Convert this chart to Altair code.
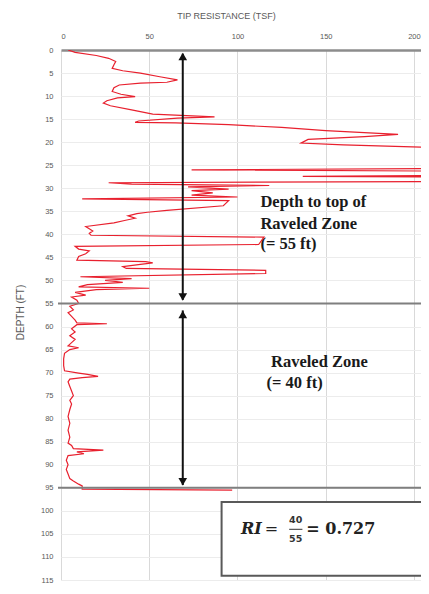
import altair as alt
import pandas as pd

# ---- CPT trace (depth in ft, tip resistance in tsf) ----
depth_ft = [0.0, 0.5, 1.2, 1.8, 2.5, 3.2, 4.0, 4.5, 5.0, 5.8, 6.5, 7.0, 7.2, 7.6, 8.2, 9.0, 9.6, 10.1,
            10.4, 11.0, 11.5, 12.1, 13.0, 13.9, 14.5, 14.8, 15.4, 15.7, 15.8, 16.2, 16.8, 17.5, 18.3,
            18.8, 19.4, 20.2, 20.6, 21.2, 22.5, 25.7, 26.0, 26.3, 27.2, 27.4, 27.6, 28.5, 28.8, 29.1,
            29.4, 29.7, 30.2, 30.5, 31.0, 31.5, 31.9, 32.3, 32.7, 33.8, 34.8, 35.2, 35.5, 36.0, 36.5,
            37.0, 37.5, 38.3, 38.8, 39.3, 39.8, 40.2, 40.6, 42.2, 42.6, 43.2, 43.6, 44.2, 44.8, 45.6,
            45.9, 46.2, 46.5, 47.0, 47.4, 47.8, 48.5, 49.2, 49.6, 50.0, 50.4, 50.9, 51.4, 51.7, 52.0,
            52.6, 53.2, 53.6, 54.3, 55.0, 55.6, 56.4, 57.0, 57.8, 58.6, 59.2, 59.4, 59.6, 60.5, 61.2,
            62.0, 62.8, 63.5, 64.2, 64.6, 65.0, 65.8, 67.0, 68.5, 69.6, 70.1, 70.4, 70.8, 71.1, 71.4,
            72.0, 73.0, 74.0, 75.0, 76.0, 76.8, 78.0, 79.5, 81.0, 82.5, 84.0, 85.3, 85.8, 86.5, 86.8,
            87.2, 87.6, 88.0, 89.0, 90.0, 91.0, 92.0, 93.0, 93.5, 94.2, 94.6, 95.3, 95.5]
tip_tsf = [4, 8, 20, 27, 31, 30, 29, 35, 45, 56, 66, 60, 45, 33, 30, 29, 34, 42,
           32, 26, 24, 28, 40, 52, 87, 66, 44, 42, 65, 95, 125, 150, 191,
           172, 140, 136, 160, 215, 230, 230, 74, 230, 230, 137, 230, 230, 27, 40,
           118, 72, 95, 74, 86, 74, 100, 12, 95, 92, 60, 49, 43, 38, 42,
           36, 30, 14, 16, 18, 16, 17, 115, 112, 8, 10, 16, 14, 10, 9,
           48, 52, 45, 35, 37, 116, 116, 11, 40, 25, 35, 15, 10, 50, 20,
           8, 14, 6, 9, 10, 5, 7, 4, 6, 8, 9, 26, 9, 6, 8,
           5, 8, 6, 4, 10, 5, 2, 1.5, 1.5, 2, 10, 15, 21, 12, 5,
           4, 5, 6, 7, 5, 6, 5, 4, 5, 4, 5, 4, 6, 7, 24,
           9, 13, 4, 3, 4, 3, 4, 5, 7, 10, 12, 12, 97]

x_ticks = [0, 50, 100, 150, 200]
y_ticks = list(range(0, 120, 5))

# ---- annotations ----
zone_depths = [55, 95]
arrow_x = [69, 69]
arrow_top = [0.8, 56.5]
arrow_bottom = [54.2, 94.4]
head_depths = [1.4, 53.6, 57.4, 93.7]
head_shapes = ["triangle-up", "triangle-down", "triangle-up", "triangle-down"]

label_texts = ["Depth to top of", "Raveled Zone", "(= 55 ft)", "Raveled Zone", "(= 40 ft)"]
label_x = [113, 113, 113, 119, 116.5]
label_depth = [33.0, 37.7, 42.0, 67.8, 72.3]

box_x = [91]
box_x2 = [206]
box_top = [98.1]
box_bottom = [114.1]

X = alt.Scale(domain=[0, 204], nice=False, zero=False)
Y = alt.Scale(domain=[0, 115], nice=False, zero=False, reverse=True)

AX_FONT = "Liberation Sans"
X_TITLE = "TIP RESISTANCE (TSF)"
Y_TITLE = "DEPTH (FT)"

X_AXIS = alt.Axis(orient="top", values=x_ticks, ticks=False, tickSize=0, labelPadding=10,
                  domain=True, domainColor="#8c8c8c", domainWidth=2.5, labelOverlap=False,
                  grid=True, gridColor="#d9d9d9", gridWidth=1,
                  labelFont=AX_FONT, labelFontSize=7.5, labelColor="#595959",
                  titleFont=AX_FONT, titleFontSize=9, titleFontWeight="normal",
                  titleColor="#595959", titleX=165, titleY=-35, titleAlign="center",
                  titleBaseline="middle")
Y_AXIS = alt.Axis(values=y_ticks, ticks=False, tickSize=0, labelPadding=8, domain=False,
                  labelOverlap=False, labelBound=False,
                  grid=True, gridColor="#ececec", gridWidth=1,
                  labelFont=AX_FONT, labelFontSize=7.5, labelColor="#595959",
                  titleFont=AX_FONT, titleFontSize=10, titleFontWeight="normal",
                  titleColor="#595959", titleX=-41, titleY=262, titleAngle=270,
                  titleAlign="center", titleBaseline="middle")


def px(field):
    return alt.X(field, type="quantitative", scale=X, axis=X_AXIS, title=X_TITLE)


def py(field):
    return alt.Y(field, type="quantitative", scale=Y, axis=Y_AXIS, title=Y_TITLE)


trace = pd.DataFrame({"i": list(range(len(depth_ft))), "depth": depth_ft, "qc": tip_tsf})

line = alt.Chart(trace).mark_line(color="#e8202e", strokeWidth=1.2, clip=True).encode(
    x=px("qc"), y=py("depth"), order="i:Q")

zones = alt.Chart(pd.DataFrame({"depth": zone_depths, "x0": [-1.7, -1.7], "x1": [206, 206]})).mark_rule(
    color="#7f7f7f", strokeWidth=2).encode(
    x=px("x0"), x2="x1:Q", y=py("depth"))

arrows = alt.Chart(pd.DataFrame({"x": arrow_x, "t": arrow_top, "b": arrow_bottom})).mark_rule(
    color="#111111", strokeWidth=2).encode(
    x=px("x"), y=py("t"), y2="b:Q")

heads = alt.Chart(pd.DataFrame({"x": [69] * 4, "depth": head_depths, "shape": head_shapes})).mark_point(
    filled=True, color="#111111", size=75, opacity=1).encode(
    x=px("x"), y=py("depth"),
    shape=alt.Shape("shape:N", scale=None))

box = alt.Chart(pd.DataFrame({"x": box_x, "x2": box_x2, "t": box_top, "b": box_bottom})).mark_rect(
    fill="white", stroke="#595959", strokeWidth=2).encode(
    x=px("x"), x2="x2:Q", y=py("t"), y2="b:Q")

labels = alt.Chart(pd.DataFrame({"x": label_x, "depth": label_depth, "t": label_texts})).mark_text(
    align="left", baseline="middle", font="Liberation Serif", fontSize=16.5, fontWeight="bold",
    color="#1a1a1a").encode(
    x=px("x"), y=py("depth"), text="t:N")

# RI = 40/55 = 0.727
ri_parts = ["RI", "=", "= 0.727"]
ri_x = [102, 115.5, 139]
ri_depth = [103.9, 103.9, 103.9]
ri_style = ["bi", "n", "b"]

ri_main = alt.Chart(pd.DataFrame({"x": ri_x, "depth": ri_depth, "t": ri_parts, "s": ri_style}))
ri_a = ri_main.transform_filter("datum.s == 'bi'").mark_text(
    align="left", baseline="middle", font="DejaVu Serif", fontSize=16, fontWeight="bold",
    fontStyle="italic", color="#222222").encode(
    x=px("x"), y=py("depth"), text="t:N")
ri_b = ri_main.transform_filter("datum.s == 'n'").mark_text(
    align="left", baseline="middle", font="DejaVu Serif", fontSize=16, color="#222222").encode(
    x=px("x"), y=py("depth"), text="t:N")
ri_c = ri_main.transform_filter("datum.s == 'b'").mark_text(
    align="left", baseline="middle", font="DejaVu Serif", fontSize=16, fontWeight="bold",
    color="#222222").encode(
    x=px("x"), y=py("depth"), text="t:N")

frac_num = ["40", "55"]
frac_depth = [101.9, 106.1]
frac = alt.Chart(pd.DataFrame({"x": [133, 133], "depth": frac_depth, "t": frac_num})).mark_text(
    align="center", baseline="middle", font="DejaVu Sans", fontSize=9.5, fontWeight="bold",
    color="#333333").encode(
    x=px("x"), y=py("depth"), text="t:N")
frac_bar = alt.Chart(pd.DataFrame({"x0": [129.3], "x1": [136.8], "depth": [104.0]})).mark_rule(
    color="#333333", strokeWidth=1).encode(
    x=px("x0"), x2="x1:Q", y=py("depth"))

chart = alt.layer(line, zones, arrows, heads, box, labels, ri_a, ri_b, ri_c, frac, frac_bar).properties(
    width=360, height=530,
    autosize=alt.AutoSizeParams(type="none"),
    padding={"left": 53, "top": 42, "right": 0, "bottom": 5},
    background="white",
).configure_view(stroke=None)

chart.save("out.html", embed_options={"renderer": "svg", "actions": False})
